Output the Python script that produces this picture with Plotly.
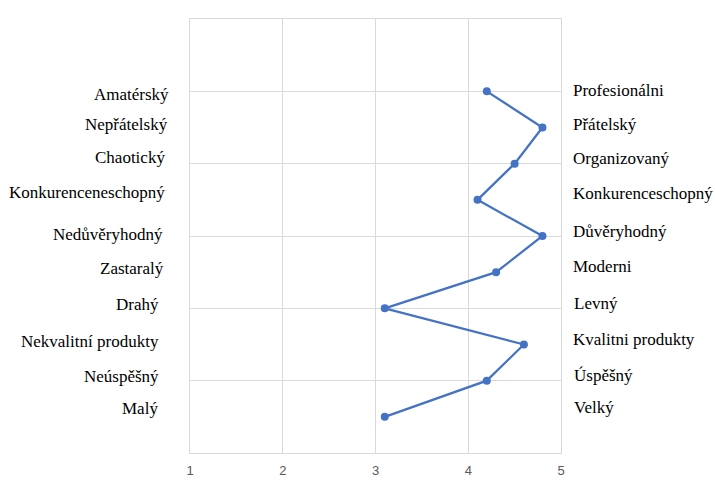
import plotly.graph_objects as go

# skóre na škále 1–5, řádky shora dolů
skore = [4.2, 4.8, 4.5, 4.1, 4.8, 4.3, 3.1, 4.6, 4.2, 3.1]
poradi = [5.0, 4.5, 4.0, 3.5, 3.0, 2.5, 2.0, 1.5, 1.0, 0.5]

levy_pol = ["Amatérský", "Nepřátelský", "Chaotický", "Konkurenceneschopný",
            "Nedůvěryhodný", "Zastaralý", "Drahý", "Nekvalitní produkty",
            "Neúspěšný", "Malý"]
pravy_pol = ["Profesionálni", "Přátelský", "Organizovaný", "Konkurenceschopný",
             "Důvěryhodný", "Moderni", "Levný", "Kvalitni produkty",
             "Úspěšný", "Velký"]

x_ticks = [1, 2, 3, 4, 5]

fig = go.Figure()
fig.add_trace(go.Scatter(
    x=skore,
    y=poradi,
    mode="lines+markers",
    line=dict(color="#4472C4", width=2.25),
    marker=dict(color="#4472C4", size=8),
    showlegend=False,
    hoverinfo="skip"
))

# ruční posuny popisků jako v originále (px)
levy_posun = [(0, -3), (-1, 3), (-4, 6), (-4, 7), (-6, 2),
              (-5, 4), (-10, 4), (-10, 3), (-10, 4), (-11, 8)]
pravy_posun = [(0, 1), (0, 3), (0, 5), (0, 6), (0, 5),
               (0, 6), (1, 5), (0, 5), (1, 5), (1, 9)]

pismo = dict(family="Liberation Serif", size=17, color="black")
anotace = []
for text, yv, (dx, dy) in zip(levy_pol, poradi, levy_posun):
    anotace.append(dict(x=0, xref="paper", y=yv, yref="y", text=text,
                        xanchor="right", yanchor="middle", showarrow=False,
                        xshift=-19 + dx, yshift=dy, font=pismo))
for text, yv, (dx, dy) in zip(pravy_pol, poradi, pravy_posun):
    anotace.append(dict(x=1, xref="paper", y=yv, yref="y", text=text,
                        xanchor="left", yanchor="middle", showarrow=False,
                        xshift=10 + dx, yshift=dy, font=pismo))

fig.update_layout(
    width=715,
    height=501,
    margin=dict(l=190, r=154, t=19, b=48),
    paper_bgcolor="white",
    plot_bgcolor="white",
    annotations=anotace,
    xaxis=dict(range=[1, 5], tickvals=x_ticks, showgrid=True, gridcolor="#d9d9d9",
               gridwidth=1, zeroline=False, showline=True, linecolor="#d9d9d9",
               mirror=True, ticks="", ticklabelstandoff=5,
               tickfont=dict(family="Liberation Sans", size=13, color="#595959")),
    yaxis=dict(range=[0, 6], dtick=1, showgrid=True, gridcolor="#d9d9d9",
               gridwidth=1, zeroline=False, showline=True, linecolor="#d9d9d9",
               mirror=True, showticklabels=False, ticks=""),
)

# bez okraje stránky, posuvníků a lišty nástrojů
fig.write_html("out.html",
               config={"displayModeBar": False},
               post_script="document.body.style.margin='0';document.body.style.overflow='hidden';")
